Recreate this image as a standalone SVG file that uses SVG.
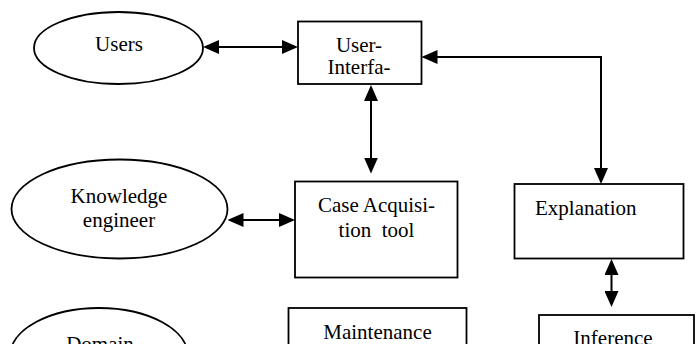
<svg xmlns="http://www.w3.org/2000/svg" width="699" height="344" viewBox="0 0 699 344">
<style>
.shape{fill:#fff;stroke:#000;stroke-width:1.8}
.lbl{font-family:"Liberation Serif","Times New Roman",serif;font-size:21px;fill:#000}
.mid{text-anchor:middle}
.conn{fill:none;stroke:#000;stroke-width:2}
</style>
<defs>
<marker id="ah" viewBox="0 0 16 14" refX="13" refY="7" markerWidth="16" markerHeight="14" markerUnits="userSpaceOnUse" orient="auto-start-reverse">
<path d="M0,0 L16,7 L0,14 z" fill="#000"/>
</marker>
</defs>
<rect width="699" height="344" fill="#fff"/>
<g id="users">
<ellipse class="shape" cx="118.5" cy="48" rx="84.5" ry="36"/>
<text class="lbl mid" x="119" y="50.5">Users</text>
</g>
<g id="user-interface">
<rect class="shape" x="298" y="21.5" width="123.5" height="62.5"/>
<text class="lbl mid" x="359" y="51.5">User-</text>
<text class="lbl mid" x="359" y="74">Interfa-</text>
</g>
<g id="knowledge-engineer">
<ellipse class="shape" cx="119.5" cy="209" rx="108" ry="49.5"/>
<text class="lbl mid" x="119" y="203">Knowledge</text>
<text class="lbl mid" x="119" y="227">engineer</text>
</g>
<g id="case-acquisition-tool">
<rect class="shape" x="295" y="181.5" width="162.5" height="96"/>
<text class="lbl mid" x="376.5" y="211.5">Case Acquisi-</text>
<text class="lbl mid" x="376.5" y="236.5" xml:space="preserve">tion  tool</text>
</g>
<g id="explanation">
<rect class="shape" x="514.5" y="184" width="169" height="74.5"/>
<text class="lbl" x="535" y="215">Explanation</text>
</g>
<g id="domain">
<ellipse class="shape" cx="99" cy="356" rx="89" ry="48"/>
<text class="lbl mid" x="100" y="351">Domain</text>
</g>
<g id="maintenance">
<rect class="shape" x="288.5" y="308" width="178" height="60"/>
<text class="lbl mid" x="377.5" y="339">Maintenance</text>
</g>
<g id="inference">
<rect class="shape" x="539" y="315" width="155" height="60"/>
<text class="lbl mid" x="613" y="345">Inference</text>
</g>
<g id="connectors">
<path class="conn" d="M206,47 H295" marker-start="url(#ah)" marker-end="url(#ah)"/>
<path class="conn" d="M371,88 V170.5" marker-start="url(#ah)" marker-end="url(#ah)"/>
<path class="conn" d="M424.5,57 H601 V181" marker-start="url(#ah)" marker-end="url(#ah)"/>
<path class="conn" d="M230.5,220 H292" marker-start="url(#ah)" marker-end="url(#ah)"/>
<path class="conn" d="M611.5,262 V304" marker-start="url(#ah)" marker-end="url(#ah)"/>
</g>
</svg>
